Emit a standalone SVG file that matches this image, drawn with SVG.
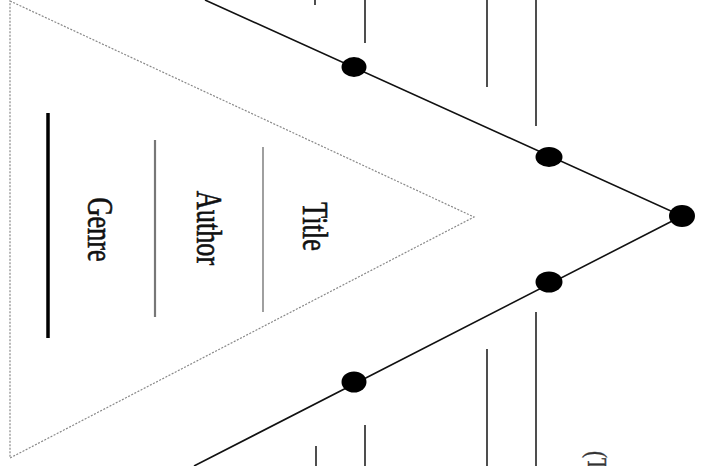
<svg xmlns="http://www.w3.org/2000/svg" width="702" height="466" viewBox="0 0 702 466">
<style>
.v{fill:none;stroke:#111;stroke-width:1.6}
.tick{stroke:#222;stroke-width:1.6}
.dot{fill:#000}
.lbl{font-family:"Liberation Serif","Times New Roman",serif;font-size:35px;fill:#111;stroke:#111;stroke-width:0.6;text-anchor:middle}
.small{font-family:"Liberation Serif","Times New Roman",serif;font-size:28px;fill:#333;stroke:#333;stroke-width:0.4}
</style>
<rect width="702" height="466" fill="#fff"/>
<g id="frame">
<polygon points="10,1 474,217 10,458" fill="none" stroke="#888" stroke-width="1.2" stroke-dasharray="2,1.5"/>
</g>
<g id="connectors">
<polyline class="v" points="205,0 682,216 194,466"/>
<line class="tick" x1="315" y1="0" x2="315" y2="5"/>
<line class="tick" x1="365" y1="0" x2="365" y2="43"/>
<line class="tick" x1="487" y1="0" x2="487" y2="87"/>
<line class="tick" x1="536" y1="0" x2="536" y2="126"/>
<line class="tick" x1="316" y1="446" x2="316" y2="466"/>
<line class="tick" x1="365" y1="425" x2="365" y2="466"/>
<line class="tick" x1="487" y1="349" x2="487" y2="466"/>
<line class="tick" x1="536" y1="312" x2="536" y2="466"/>
</g>
<g id="dots">
<ellipse class="dot" cx="354" cy="67" rx="12.5" ry="10"/>
<ellipse class="dot" cx="549" cy="157" rx="13.5" ry="10"/>
<ellipse class="dot" cx="682" cy="216" rx="13" ry="11"/>
<ellipse class="dot" cx="549" cy="282" rx="13.5" ry="10.5"/>
<ellipse class="dot" cx="354" cy="382" rx="12.5" ry="10.5"/>
</g>
<g id="genre">
<line x1="48" y1="113" x2="48" y2="338" stroke="#000" stroke-width="3.5"/>
<text class="lbl" transform="translate(88,229.5) rotate(90) scale(0.75,1)">Genre</text>
</g>
<g id="author">
<line x1="155" y1="140" x2="155" y2="317" stroke="#777" stroke-width="2.2"/>
<text class="lbl" transform="translate(197,228) rotate(90) scale(0.75,1)">Author</text>
</g>
<g id="title">
<line x1="263" y1="147" x2="263" y2="312" stroke="#888" stroke-width="1.6"/>
<text class="lbl" transform="translate(303,226.5) rotate(90) scale(0.75,1)">Title</text>
</g>
<g id="note">
<text class="small" transform="translate(588,451) rotate(90) scale(0.75,1)">(T</text>
</g>
</svg>
